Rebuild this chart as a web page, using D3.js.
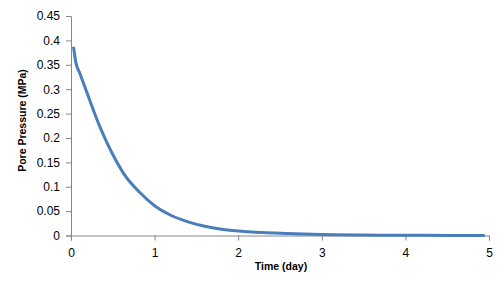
<!DOCTYPE html>
<html lang="en">
<head>
	<meta charset="UTF-8"/>
	<title>Pore pressure vs time</title>
	<script src="https://d3js.org/d3.v7.min.js"></script>
	<style>
		body { margin: 0; background: #fff; }
		.tick text { font-family: "Liberation Sans", Arial, sans-serif; font-size: 12px; fill: #000; }
		.domain, .tick line { stroke: #868686; }
		.title { font-family: "Liberation Sans", Arial, sans-serif; font-weight: bold; font-size: 10.5px; fill: #000; }
		.line { fill: none; stroke: #4a7ebb; stroke-width: 3; }
	</style>
</head>
<body>
	<div id="chart"></div>
	<script>
	var w = 504;
	var h = 289;

	// values
	var time = [0.03, 0.06, 0.1, 0.18, 0.29, 0.35, 0.42, 0.5, 0.63, 0.83, 1.0, 1.2, 1.4, 1.6, 1.8, 2.0, 2.3, 2.6, 3.0, 3.5, 4.0, 4.5, 4.95];
	var pressure = [0.387, 0.353, 0.335, 0.298, 0.247, 0.221, 0.194, 0.166, 0.127, 0.087, 0.061, 0.041, 0.028, 0.019, 0.013, 0.009, 0.006, 0.0042, 0.002, 0.001, 0.0005, 0.0002, 0.0001];
	var xTicks = [0, 1, 2, 3, 4, 5];
	var yTicks = [0, 0.05, 0.1, 0.15, 0.2, 0.25, 0.3, 0.35, 0.4, 0.45];

	var dataset = time.map(function(t, i){ return {t: t, p: pressure[i]}; });

	var xScale = d3.scaleLinear().domain([0, 5]).range([71, 489]);
	var yScale = d3.scaleLinear().domain([0, 0.45]).range([235.5, 16]);

	var svg = d3.select("#chart")
				.append("svg")
				.attr("width", w)
				.attr("height", h);

	var xAxis = d3.axisBottom(xScale).tickValues(xTicks).tickFormat(d3.format("d")).tickSize(5).tickPadding(8);
	var yAxis = d3.axisLeft(yScale).tickValues(yTicks).tickFormat(function(d){ return d3.format("")(+d.toFixed(2)); }).tickSize(5).tickPadding(6);

	svg.append("g")
		.attr("transform", "translate(0," + yScale(0) + ")")
		.call(xAxis);

	svg.append("g")
		.attr("transform", "translate(" + xScale(0) + ",0)")
		.call(yAxis);

	var line = d3.line()
				.curve(d3.curveMonotoneX)
				.x(function(d){ return xScale(d.t); })
				.y(function(d){ return yScale(d.p); });

	svg.append("path")
		.datum(dataset)
		.attr("class", "line")
		.attr("d", line);

	svg.append("text")
		.attr("class", "title")
		.attr("x", 281)
		.attr("y", 270)
		.attr("text-anchor", "middle")
		.text("Time (day)");

	svg.append("text")
		.attr("class", "title")
		.attr("transform", "translate(26,120.5) rotate(-90)")
		.attr("text-anchor", "middle")
		.text("Pore Pressure (MPa)");
	</script>
</body>
</html>
